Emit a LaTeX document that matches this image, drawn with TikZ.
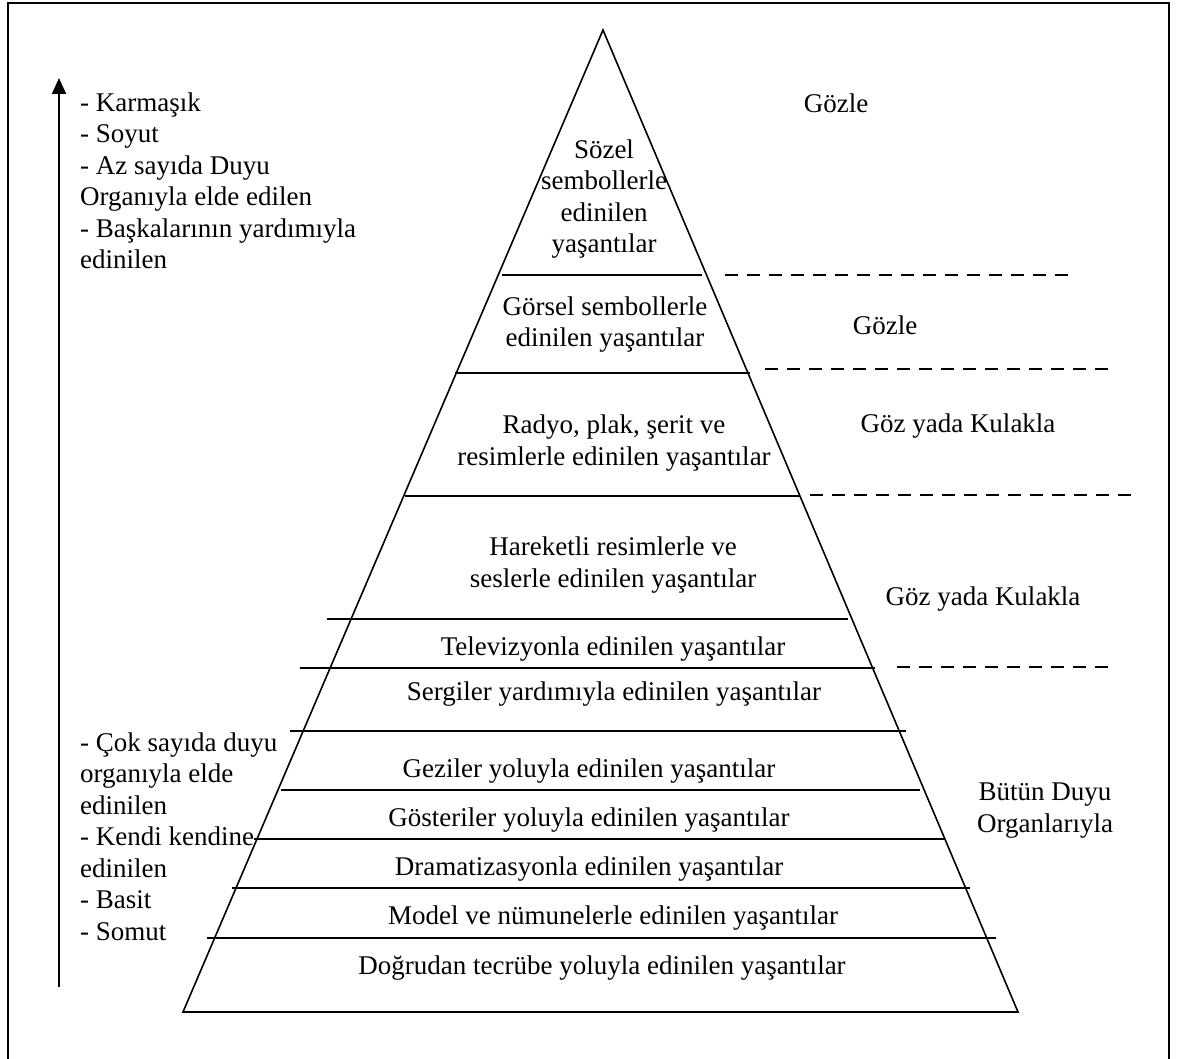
\documentclass[tikz,border=0pt]{standalone}
\usepackage{fontspec}
\setmainfont{Liberation Serif}
\usetikzlibrary{arrows.meta}
\begin{document}
\begin{tikzpicture}[x=1pt,y=-1pt,
  lbl/.style={font=\fontsize{27}{31.5}\selectfont, inner sep=0pt},
  lblL/.style={lbl, align=left, anchor=base west},
  lblC/.style={lbl, align=center, anchor=base},
  pyr/.style={line width=1.6pt, line join=miter},
  tier/.style={line width=1.3pt},
  sep/.style={line width=1.3pt, dash pattern=on 13pt off 9pt},
  frame/.style={line width=2pt},
  axis/.style={line width=1.8pt, -{Triangle[length=16pt,width=14pt]}}]
\useasboundingbox (0,0) rectangle (1179,1059);
% frame (open at the bottom)
\coordinate (fbl) at (8,1059);
\coordinate (ftl) at (8,3);
\coordinate (ftr) at (1169,3);
\coordinate (fbr) at (1169,1059);
\draw[frame] (fbl) -- (ftl) -- (ftr) -- (fbr);
% arrow
\coordinate (ab) at (59,987);
\coordinate (at) at (59,78);
\draw[axis] (ab) -- (at);
% pyramid
\coordinate (apex) at (603,30);
\coordinate (bl) at (183,1012);
\coordinate (br) at (1018,1012);
\draw[pyr] (bl) -- (apex) -- (br) -- cycle;
% tier lines
\foreach \n/\y/\a/\b in {1/275/502/702, 2/373/455/750, 3/496/405/800, 4/619/327/848,
  5/668/300/875, 6/731/290/906, 7/790/281/920, 8/839/254/944, 9/888/232/970, 10/938/207/996}{
  \coordinate (t\n a) at (\a,\y);
  \coordinate (t\n b) at (\b,\y);
  \draw[tier] (t\n a) -- (t\n b);
}
% dashed separators
\coordinate (d1a) at (725,275);  \coordinate (d1b) at (1072,275);
\coordinate (d2a) at (765,369);  \coordinate (d2b) at (1112,369);
\coordinate (d3a) at (810,495);  \coordinate (d3b) at (1133,495);
\coordinate (d4a) at (897,667);  \coordinate (d4b) at (1115,667);
\draw[sep] (d1a) -- (d1b);
\draw[sep] (d2a) -- (d2b);
\draw[sep] (d3a) -- (d3b);
\draw[sep] (d4a) -- (d4b);
% pyramid texts (anchored at the baseline of the last line)
\node[lblC] (s1) at (604,253) {Sözel\\sembollerle\\edinilen\\yaşantılar};
\node[lblC] (s2) at (605,347) {Görsel sembollerle\\edinilen yaşantılar};
\node[lblC] (s3) at (614,465) {Radyo, plak, şerit ve\\resimlerle edinilen yaşantılar};
\node[lblC] (s4) at (613,587) {Hareketli resimlerle ve\\seslerle edinilen yaşantılar};
\node[lblC] (s5) at (613,655) {Televizyonla edinilen yaşantılar};
\node[lblC] (s6) at (614,700) {Sergiler yardımıyla edinilen yaşantılar};
\node[lblC] (s7) at (589,777) {Geziler yoluyla edinilen yaşantılar};
\node[lblC] (s8) at (589,826) {Gösteriler yoluyla edinilen yaşantılar};
\node[lblC] (s9) at (589,875) {Dramatizasyonla edinilen yaşantılar};
\node[lblC] (s10) at (613,924) {Model ve nümunelerle edinilen yaşantılar};
\node[lblC] (s11) at (602,974) {Doğrudan tecrübe yoluyla edinilen yaşantılar};
% right labels
\node[lblC] (r1) at (836,113) {Gözle};
\node[lblC] (r2) at (885,335) {Gözle};
\node[lblC] (r3) at (958,432) {Göz yada Kulakla};
\node[lblC] (r4) at (983,605) {Göz yada Kulakla};
\node[lblC] (r5) at (1045,832) {Bütün Duyu\\Organlarıyla};
% left texts
\node[lblL] (l1) at (80,269) {- Karmaşık\\- Soyut\\- Az sayıda Duyu\\Organıyla elde edilen\\- Başkalarının yardımıyla\\edinilen};
\node[lblL] (l2) at (80,940) {- Çok sayıda duyu\\organıyla elde\\edinilen\\- Kendi kendine\\edinilen\\- Basit\\- Somut};
\end{tikzpicture}
\end{document}
